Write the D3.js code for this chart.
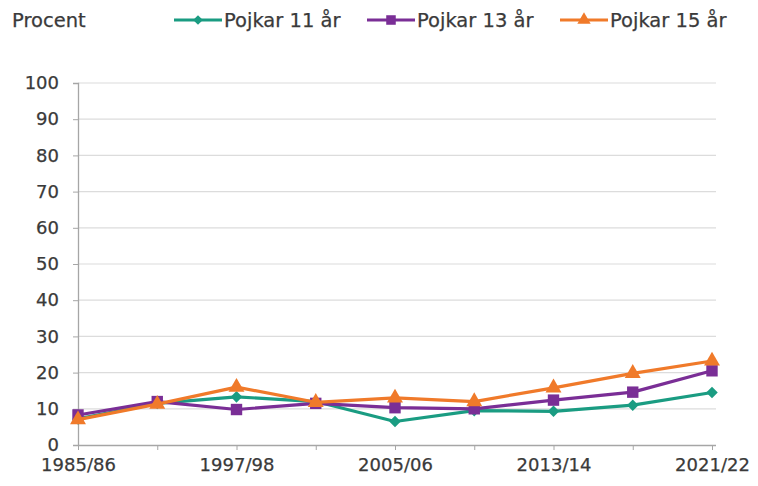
<!DOCTYPE html>
<html>
<head>
<meta charset="utf-8">
<script src="https://cdn.jsdelivr.net/npm/d3@7"></script>
<style>
  body { margin: 0; background: #fff; }
  text { font-family: "DejaVu Sans", sans-serif; fill: #3a3a3a; stroke: #3a3a3a; stroke-width: 0.25px; }
</style>
</head>
<body>
<svg width="758" height="486"></svg>
<script>
// survey years (only every other one is labelled)
const years = ["1985/86", "1993/94", "1997/98", "2001/02", "2005/06", "2009/10", "2013/14", "2017/18", "2021/22"];
const shownYears = ["1985/86", "1997/98", "2005/06", "2013/14", "2021/22"];
const yTicks = [0, 10, 20, 30, 40, 50, 60, 70, 80, 90, 100];

const pojkar11 = [7.2, 11.5, 13.3, 12.0, 6.5, 9.5, 9.3, 11.0, 14.5];
const pojkar13 = [8.3, 12.0, 9.8, 11.5, 10.3, 10.0, 12.4, 14.6, 20.5];
const pojkar15 = [7.0, 11.3, 16.0, 11.8, 13.0, 12.0, 15.8, 19.8, 23.2];

const series = [
  { name: "Pojkar 11 år", values: pojkar11, color: "#1a9c82", symbol: d3.symbolDiamond2, size: 85 },
  { name: "Pojkar 13 år", values: pojkar13, color: "#7a2e96", symbol: d3.symbolSquare, size: 130 },
  { name: "Pojkar 15 år", values: pojkar15, color: "#f07a2a", symbol: d3.symbolTriangle, size: 110 }
];

const svg = d3.select("svg");
const margin = { top: 83, right: 46, bottom: 41, left: 78 };
const width = +svg.attr("width");
const height = +svg.attr("height");

const x = d3.scalePoint().domain(years).range([margin.left, width - margin.right]);
const y = d3.scaleLinear().domain([0, 100]).range([height - margin.bottom, margin.top]);

// gridlines
svg.append("g")
  .selectAll("line")
  .data(yTicks.filter(d => d > 0))
  .join("line")
  .attr("x1", margin.left)
  .attr("x2", width - margin.right + 4)
  .attr("y1", d => y(d))
  .attr("y2", d => y(d))
  .attr("stroke", "#dcdcdc")
  .attr("stroke-width", 1.2);

// y axis
const yAxis = svg.append("g")
  .attr("transform", `translate(${margin.left},0)`)
  .call(d3.axisLeft(y).tickValues(yTicks).tickSize(5).tickPadding(14));
yAxis.select(".domain").attr("stroke", "#a6a6a6").attr("stroke-width", 1.3);
yAxis.selectAll(".tick line").attr("stroke", "#a6a6a6");
yAxis.selectAll(".tick text").attr("font-size", 18).attr("fill", "#3a3a3a");

// x axis
const xAxis = svg.append("g")
  .attr("transform", `translate(0,${y(0)})`)
  .call(d3.axisBottom(x).tickSize(5).tickPadding(8)
    .tickFormat(d => shownYears.includes(d) ? d : ""));
xAxis.select(".domain").attr("stroke", "#a6a6a6").attr("stroke-width", 1.3)
  .attr("d", `M${margin.left},0.5H${width - margin.right + 4}`);
xAxis.selectAll(".tick line").attr("stroke", "#a6a6a6");
xAxis.selectAll(".tick text").attr("font-size", 18).attr("fill", "#3a3a3a");

// lines and markers
const line = d3.line().x((d, i) => x(years[i])).y(d => y(d));

series.forEach(s => {
  svg.append("path")
    .datum(s.values)
    .attr("fill", "none")
    .attr("stroke", s.color)
    .attr("stroke-width", 3.2)
    .attr("stroke-linejoin", "round")
    .attr("d", line);
  svg.append("g")
    .selectAll("path")
    .data(s.values)
    .join("path")
    .attr("transform", (d, i) => `translate(${x(years[i])},${y(d)})`)
    .attr("d", d3.symbol().type(s.symbol).size(s.size))
    .attr("fill", s.color);
});

// title + legend
svg.append("text")
  .attr("x", 12)
  .attr("y", 27)
  .attr("font-size", 19.5)
  .text("Procent");

const legendX = [174, 367, 560];
const lg = svg.append("g")
  .selectAll("g")
  .data(series)
  .join("g")
  .attr("transform", (d, i) => `translate(${legendX[i]},20)`);
lg.append("line")
  .attr("x1", 0).attr("x2", 48)
  .attr("stroke", d => d.color)
  .attr("stroke-width", 3.2);
lg.append("path")
  .attr("transform", "translate(24,0)")
  .attr("d", d => d3.symbol().type(d.symbol).size(d.size * 0.7)())
  .attr("fill", d => d.color);
lg.append("text")
  .attr("x", 50)
  .attr("y", 7)
  .attr("font-size", 19.5)
  .text(d => d.name);
</script>
</body>
</html>
